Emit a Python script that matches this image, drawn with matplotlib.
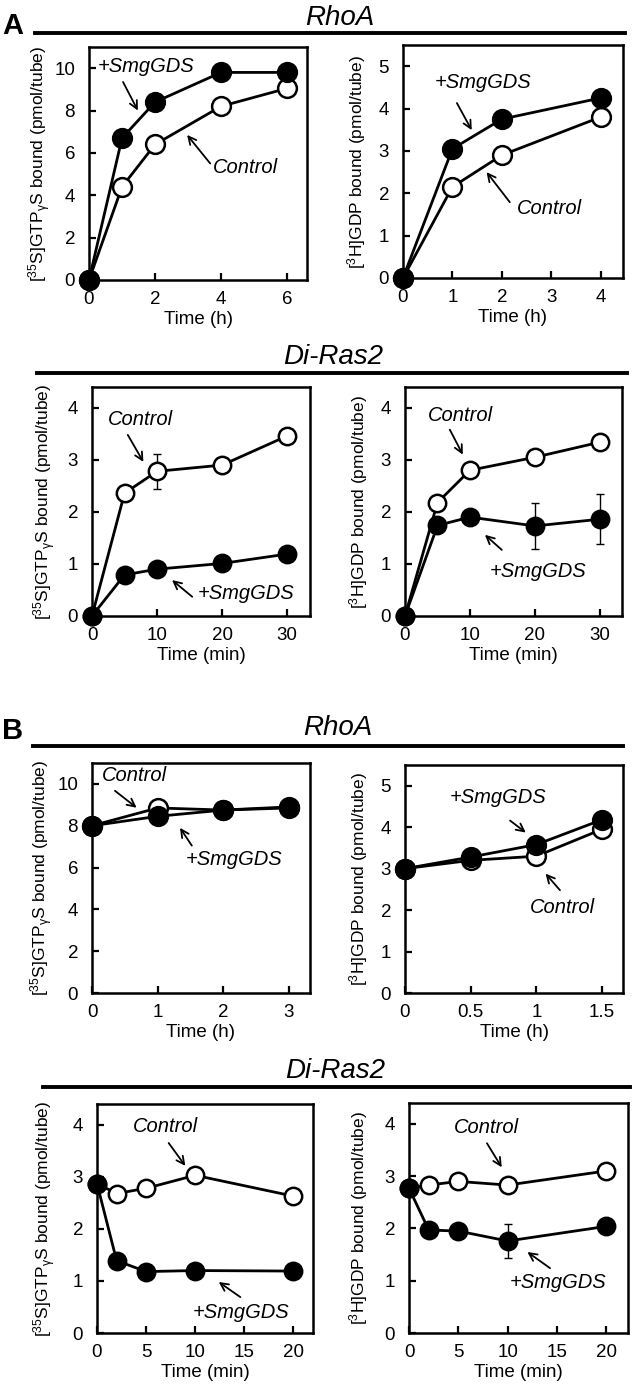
import matplotlib
matplotlib.use('Agg')
import matplotlib.pyplot as plt
from matplotlib.lines import Line2D
import numpy as np

plt.rcParams['font.family'] = ['Liberation Sans', 'DejaVu Sans']
plt.rcParams['mathtext.fontset'] = 'custom'
plt.rcParams['mathtext.rm'] = 'Liberation Sans'
plt.rcParams['mathtext.it'] = 'Liberation Sans:italic'
plt.rcParams['mathtext.bf'] = 'Liberation Sans:bold'

# ---- data ----
# A, RhoA, [35S]GTPgS binding
a_rhoa_gtp_time = [0, 1, 2, 4, 6]
a_rhoa_gtp_control = [0, 4.4, 6.4, 8.2, 9.05]
a_rhoa_gtp_smg = [0, 6.7, 8.4, 9.8, 9.8]

# A, RhoA, [3H]GDP binding
a_rhoa_gdp_time = [0, 1, 2, 4]
a_rhoa_gdp_control = [0, 2.15, 2.9, 3.8]
a_rhoa_gdp_smg = [0, 3.05, 3.75, 4.25]

# A, Di-Ras2, [35S]GTPgS binding
a_diras_gtp_time = [0, 5, 10, 20, 30]
a_diras_gtp_control = [0, 2.36, 2.78, 2.9, 3.46]
a_diras_gtp_control_err = [0, 0, 0.34, 0, 0]
a_diras_gtp_smg = [0, 0.79, 0.9, 1.01, 1.19]

# A, Di-Ras2, [3H]GDP binding
a_diras_gdp_time = [0, 5, 10, 20, 30]
a_diras_gdp_control = [0, 2.18, 2.8, 3.05, 3.34]
a_diras_gdp_smg = [0, 1.74, 1.9, 1.73, 1.86]
a_diras_gdp_smg_err = [0, 0, 0, 0.44, 0.48]

# B, RhoA, [35S]GTPgS
b_rhoa_gtp_time = [0, 1, 2, 3]
b_rhoa_gtp_control = [8.0, 8.85, 8.75, 8.85]
b_rhoa_gtp_smg = [8.0, 8.45, 8.75, 8.9]

# B, RhoA, [3H]GDP
b_rhoa_gdp_time = [0, 0.5, 1, 1.5]
b_rhoa_gdp_control = [3.0, 3.2, 3.3, 3.95]
b_rhoa_gdp_smg = [3.0, 3.28, 3.58, 4.18]

# B, Di-Ras2, [35S]GTPgS
b_diras_gtp_time = [0, 2, 5, 10, 20]
b_diras_gtp_control = [2.87, 2.68, 2.78, 3.03, 2.63]
b_diras_gtp_smg = [2.87, 1.39, 1.18, 1.2, 1.19]

# B, Di-Ras2, [3H]GDP
b_diras_gdp_time = [0, 2, 5, 10, 20]
b_diras_gdp_control = [2.77, 2.83, 2.9, 2.83, 3.1]
b_diras_gdp_smg = [2.77, 1.97, 1.95, 1.76, 2.04]
b_diras_gdp_smg_err = [0, 0, 0, 0.33, 0]

GTP_LABEL = r'[$^{35}$S]GTP$_{\mathrm{\gamma}}$S bound (pmol/tube)'
GDP_LABEL = r'[$^{3}$H]GDP bound (pmol/tube)'

W, H = 633, 1400
fig = plt.figure(figsize=(W / 100, H / 100), dpi=100)


def add_box(x0, y0, x1, y1):
    return fig.add_axes([x0 / W, 1 - y1 / H, (x1 - x0) / W, (y1 - y0) / H])


def draw_panel(box, t, ctrl, smg, xlim, xticks, ylim, yticks, ylabel, xlabel,
               ylab_gap, notes, ctrl_err=None, smg_err=None, ms=13.5):
    ax = add_box(*box)
    t = np.array(t, dtype=float)
    for vals, err in ((ctrl, ctrl_err), (smg, smg_err)):
        if err is not None:
            err = np.array(err, dtype=float)
            m = err > 0
            ax.errorbar(t[m], np.array(vals)[m], yerr=err[m], fmt='none',
                        ecolor='black', elinewidth=1.0, capsize=3, capthick=1.0,
                        zorder=2)
    ax.plot(t, ctrl, '-o', color='black', lw=2, ms=ms, mfc='white',
            mec='black', mew=1.8, clip_on=False, zorder=3)
    ax.plot(t, smg, '-o', color='black', lw=2, ms=ms, mfc='black',
            mec='black', mew=1.8, clip_on=False, zorder=4)

    for label, txy, tail, head in notes:
        ax.text(txy[0], txy[1], label, fontsize=14.5, style='italic',
                ha='left', va='center')
        ax.annotate('', xy=head, xytext=tail,
                    arrowprops=dict(arrowstyle='->', lw=1.3, color='black',
                                    mutation_scale=14, shrinkA=0, shrinkB=0))

    ax.set_xlim(*xlim)
    ax.set_ylim(*ylim)
    ax.set_xticks(xticks)
    ax.set_yticks(yticks)
    ax.set_xticklabels([('%g' % v) for v in xticks])
    ax.tick_params(direction='in', length=5, width=1.6, labelsize=13.5,
                   top=False, right=False)
    ax.tick_params(axis='x', pad=8)
    ax.tick_params(axis='y', pad=10)
    for s in ax.spines.values():
        s.set_linewidth(1.8)
    ax.set_xlabel(xlabel, fontsize=13.5, labelpad=2)
    ax.set_ylabel(ylabel, fontsize=12.5)
    ax.yaxis.set_label_coords(-ylab_gap / (box[2] - box[0]), 0.5)
    return ax


def header(letter, title, ltxt_y, line_y, x0, x1, title_x, title_base):
    if letter:
        fig.text(2 / W, 1 - ltxt_y / H, letter, fontsize=21, fontweight='bold',
                 ha='left', va='center')
    fig.add_artist(Line2D([x0 / W, x1 / W], [1 - line_y / H, 1 - line_y / H],
                          transform=fig.transFigure, color='black', lw=2.8))
    fig.text(title_x / W, 1 - title_base / H, title, fontsize=20,
             style='italic', ha='center', va='baseline')


# ---- A ----
header('A', 'RhoA', 26, 33, 35, 625, 340, 25)
draw_panel((89, 47, 307, 280), a_rhoa_gtp_time, a_rhoa_gtp_control, a_rhoa_gtp_smg,
           (0, 6.6), [0, 2, 4, 6], (0, 11), [0, 2, 4, 6, 8, 10], GTP_LABEL, 'Time (h)', 36,
           [('+SmgGDS', (0.27, 10.1), (1.03, 9.35), (1.48, 8.0)),
            ('Control', (3.76, 5.3), (3.67, 5.5), (2.97, 6.85))])
draw_panel((403, 45, 623, 278), a_rhoa_gdp_time, a_rhoa_gdp_control, a_rhoa_gdp_smg,
           (0, 4.45), [0, 1, 2, 3, 4], (0, 5.5), [0, 1, 2, 3, 4, 5], GDP_LABEL, 'Time (h)', 35,
           [('+SmgGDS', (0.65, 4.62), (1.09, 4.13), (1.39, 3.49)),
            ('Control', (2.3, 1.63), (2.16, 1.79), (1.69, 2.5))])

header(None, 'Di-Ras2', 0, 373, 37, 627, 333, 364)
draw_panel((92, 387, 310, 616), a_diras_gtp_time, a_diras_gtp_control, a_diras_gtp_smg,
           (0, 33.5), [0, 10, 20, 30], (0, 4.4), [0, 1, 2, 3, 4], GTP_LABEL, 'Time (min)', 34,
           [('Control', (2.46, 3.77), (5.5, 3.48), (7.9, 2.96)),
            ('+SmgGDS', (16.2, 0.44), (15.4, 0.37), (12.3, 0.69))],
           ctrl_err=a_diras_gtp_control_err, ms=12.5)
draw_panel((405, 387, 622, 616), a_diras_gdp_time, a_diras_gdp_control, a_diras_gdp_smg,
           (0, 33.4), [0, 10, 20, 30], (0, 4.4), [0, 1, 2, 3, 4], GDP_LABEL, 'Time (min)', 35,
           [('Control', (3.5, 3.85), (6.9, 3.58), (8.9, 3.1)),
            ('+SmgGDS', (13.1, 0.85), (14.9, 1.27), (12.3, 1.56))],
           smg_err=a_diras_gdp_smg_err, ms=12.5)

# ---- B ----
header('B', 'RhoA', 731, 746, 33, 623, 338, 735)
draw_panel((92, 763, 310, 993), b_rhoa_gtp_time, b_rhoa_gtp_control, b_rhoa_gtp_smg,
           (0, 3.32), [0, 1, 2, 3], (0, 11), [0, 2, 4, 6, 8, 10], GTP_LABEL, 'Time (h)', 37,
           [('Control', (0.15, 10.4), (0.35, 9.67), (0.68, 8.86)),
            ('+SmgGDS', (1.42, 6.38), (1.52, 7.05), (1.34, 7.9))])
draw_panel((405, 765, 623, 993), b_rhoa_gdp_time, b_rhoa_gdp_control, b_rhoa_gdp_smg,
           (0, 1.66), [0, 0.5, 1, 1.5], (0, 5.5), [0, 1, 2, 3, 4, 5], GDP_LABEL, 'Time (h)', 35,
           [('+SmgGDS', (0.34, 4.71), (0.8, 4.16), (0.92, 3.87)),
            ('Control', (0.95, 2.07), (1.18, 2.48), (1.07, 2.88))])

header(None, 'Di-Ras2', 0, 1087, 43, 630, 335, 1078)
draw_panel((97, 1104, 313, 1333), b_diras_gtp_time, b_diras_gtp_control, b_diras_gtp_smg,
           (0, 22), [0, 5, 10, 15, 20], (0, 4.4), [0, 1, 2, 3, 4], GTP_LABEL, 'Time (min)', 39,
           [('Control', (3.7, 3.96), (7.3, 3.65), (9.0, 3.21)),
            ('+SmgGDS', (9.8, 0.4), (14.6, 0.69), (12.4, 0.98))], ms=12.5)
draw_panel((409, 1103, 628, 1333), b_diras_gdp_time, b_diras_gdp_control, b_diras_gdp_smg,
           (0, 22.2), [0, 5, 10, 15, 20], (0, 4.4), [0, 1, 2, 3, 4], GDP_LABEL, 'Time (min)', 39,
           [('Control', (4.5, 3.94), (7.9, 3.63), (9.4, 3.17)),
            ('+SmgGDS', (10.25, 0.96), (14.3, 1.24), (12.0, 1.55))],
           smg_err=b_diras_gdp_smg_err, ms=12.5)

fig.savefig('out.png', dpi=100)
